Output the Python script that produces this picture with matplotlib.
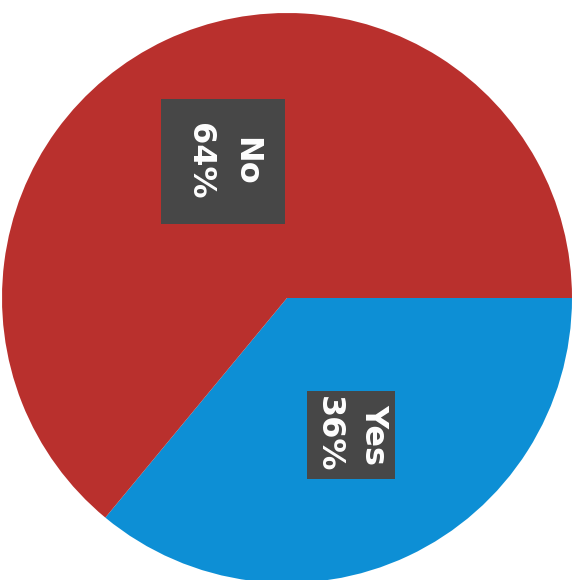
import matplotlib
matplotlib.use("Agg")
import matplotlib.pyplot as plt

# data
answers = ["Yes", "No"]
shares = [36, 64]
colors = ["#0d8fd5", "#b9302d"]

W, H, DPI = 584, 580, 100
CX, CY, R = 287, 298, 285  # pie centre / radius in pixels (from top-left)

fig = plt.figure(figsize=(W / DPI, H / DPI), dpi=DPI)
ax = fig.add_axes([0, 0, 1, 1])
ax.axis("off")

labels = [f"{a}\n{s}%" for a, s in zip(answers, shares)]
wedges, texts = ax.pie(shares, colors=colors, labels=labels, startangle=0,
                       counterclock=False, labeldistance=0.53, radius=1,
                       wedgeprops=dict(linewidth=0))

pads = {"Yes": 0.18, "No": 0.75}
for t, a in zip(texts, answers):
    t.set_rotation(-90)
    t.set_ha("center")
    t.set_va("center")
    t.set_color("white")
    t.set_fontsize(23)
    t.set_fontweight("bold")
    t.set_linespacing(1.6)
    t.set_bbox(dict(boxstyle=f"square,pad={pads[a]}", fc="#474747", ec="none"))

ax.set_xlim(-CX / R, (W - CX) / R)
ax.set_ylim(-(H - CY) / R, CY / R)
ax.set_aspect("auto")

fig.savefig("out.png", dpi=DPI, facecolor="white")
